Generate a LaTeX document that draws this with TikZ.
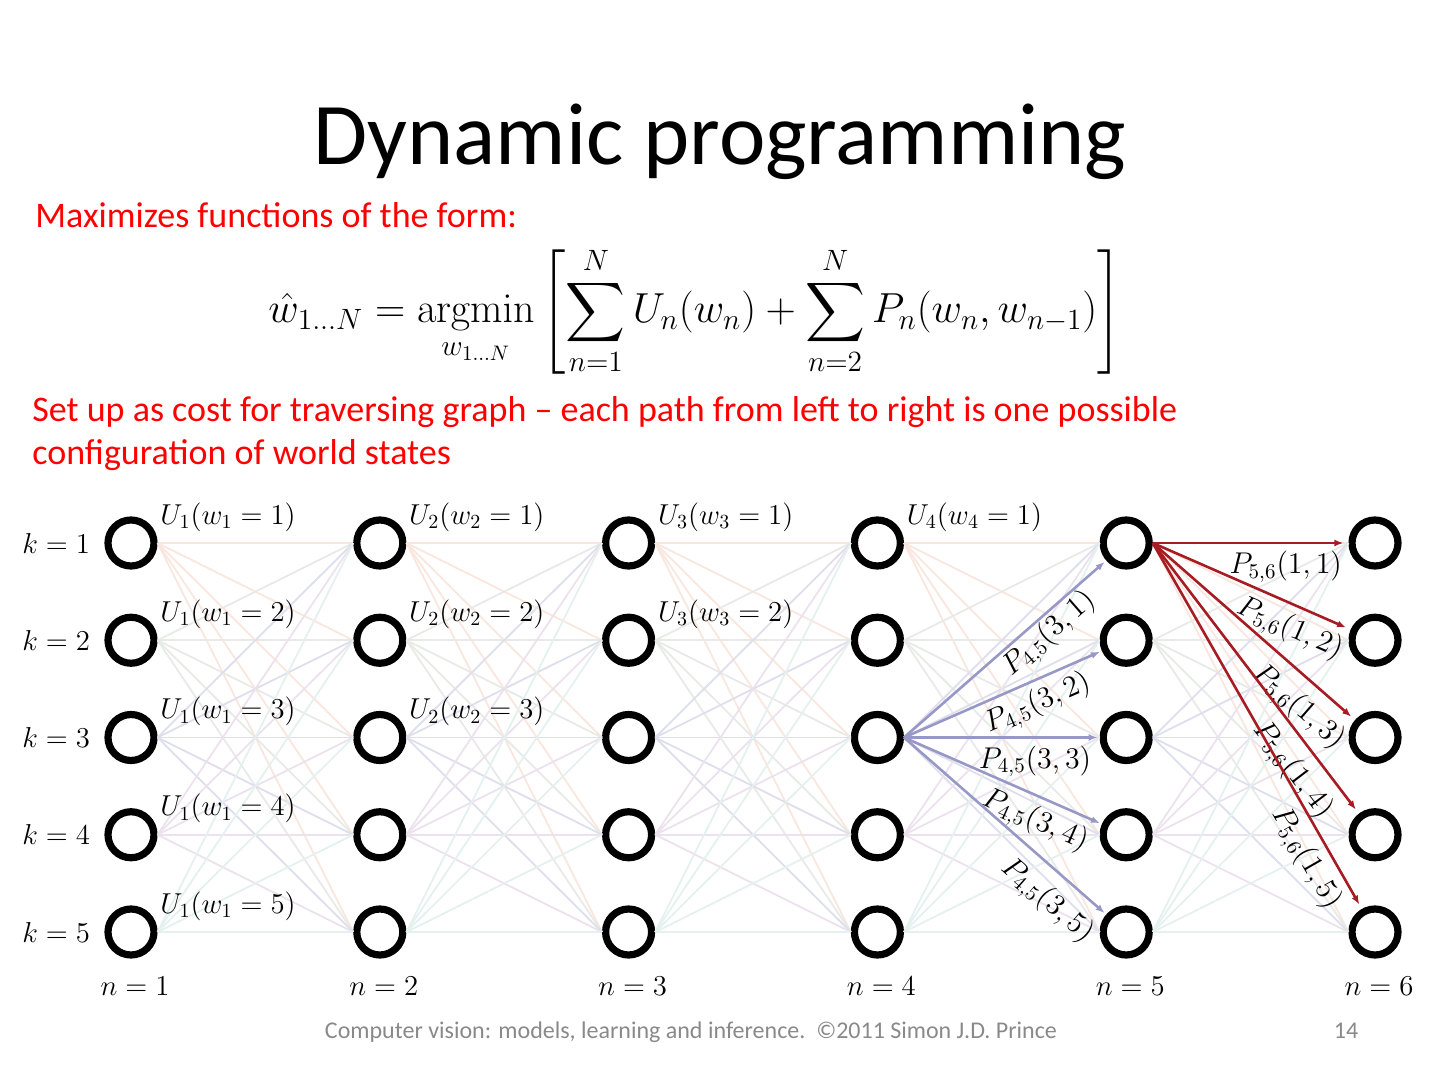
\documentclass[tikz,border=0pt]{standalone}
\usepackage{fix-cm}
\usepackage{amsmath}
\usepackage[no-math]{fontspec}
\newfontfamily\calibri[Ligatures=TeX]{Carlito}
\usetikzlibrary{arrows.meta,positioning}

\definecolor{row1}{RGB}{249,230,222}
\definecolor{row2}{RGB}{232,234,231}
\definecolor{row3}{RGB}{222,222,237}
\definecolor{row4}{RGB}{236,226,237}
\definecolor{row5}{RGB}{228,241,238}
\definecolor{pblue}{RGB}{152,152,198}
\definecolor{pred}{RGB}{166,28,34}
\definecolor{footgray}{RGB}{137,137,137}

\begin{document}
\begin{tikzpicture}[x=0.5pt,y=-0.5pt,
    vertex/.style={circle,draw,line width=3.6pt,minimum size=23pt,inner sep=0pt},
    mlab/.style={inner sep=0pt,font=\fontsize{14.4}{16}\selectfont},
    faint/.style={line width=0.9pt},
    plab/.style={mlab,font=\fontsize{15}{17}\selectfont,text=black,sloped,below},
    slidetext/.style={anchor=base west,inner sep=0pt,text=red,font=\calibri\fontsize{18}{21}\selectfont}]
\useasboundingbox (0,0) rectangle (1440,1080);

% title and text
\node[anchor=base,font=\calibri\fontsize{44}{53}\selectfont] (title) at (720,165) {Dynamic programming};
\node[slidetext] (intro) at (35,228) {Maximizes functions of the form:};
\node[font=\fontsize{21}{25}\selectfont] (eq) at (695,311)
  {$\displaystyle \hat{w}_{1\ldots N} = \operatorname*{argmin}_{w_{1\ldots N}}
   \left[\sum_{n=1}^{N} U_n(w_n) + \sum_{n=2}^{N} P_n(w_n,w_{n-1})\right]$};
\node[slidetext] (setup1) at (32,422) {Set up as cost for traversing graph – each path from left to right is one possible};
\node[slidetext] (setup2) at (32,465) {configuration of world states};

% nodes of the graph
\foreach \c in {1,...,6}
  \foreach \i in {1,...,5}
    \node[vertex] (v\c\i) at ({131+248.8*(\c-1)},{543+97.25*(\i-1)}) {};

% all connections
\foreach \c [evaluate=\c as \d using int(\c+1)] in {1,...,5}
  \foreach \i in {1,...,5}
    \foreach \j in {1,...,5}
      \draw[faint,row\i] (v\c\i.east) -- (v\d\j.west);

% pairwise costs
\foreach \j/\p/\s in {1/0.66/0.5pt,2/0.63/3pt,3/0.67/3.5pt,4/0.71/3.5pt,5/0.8/6pt}
  \draw[pblue,line width=1.3pt,-{Latex[length=4.5pt,width=3.5pt]},shorten >=1pt]
    (v43.east) -- node[plab,pos=\p,inner sep=\s] {$P_{4,5}(3,\j)$} (v5\j);
\foreach \j/\p/\s in {1/0.68/3.5pt,2/0.74/3.5pt,3/0.81/5.5pt,4/0.78/5pt,5/0.83/3.5pt}
  \draw[pred,line width=1.3pt,-{Latex[length=4.5pt,width=3.5pt]},shorten >=2.5pt]
    (v51.east) -- node[plab,pos=\p,inner sep=\s] {$P_{5,6}(1,\j)$} (v6\j);

% labels
\foreach \i in {1,...,5}
  \node[mlab,left=7pt of v1\i] (k\i) {$k=\i$};
\foreach \c in {1,...,6}
  \node[mlab,below=9pt of v\c5,xshift=2pt] (n\c) {$n=\c$};
\foreach \c/\i in {1/1,1/2,1/3,1/4,1/5,2/1,2/2,2/3,3/1,3/2,4/1}
  \node[mlab,anchor=west] (u\c\i) at ([shift={(29,-26)}]v\c\i.center) {$U_\c(w_\c=\i)$};

% footer
\node[anchor=base,text=footgray,font=\calibri\fontsize{12}{14}\selectfont] (foot) at (691,1038)
  {Computer vision: models, learning and inference.\ \ \textcopyright 2011 Simon J.D. Prince};
\node[anchor=base,text=footgray,font=\calibri\fontsize{12}{14}\selectfont] (page) at (1346,1038) {14};
\end{tikzpicture}
\end{document}
